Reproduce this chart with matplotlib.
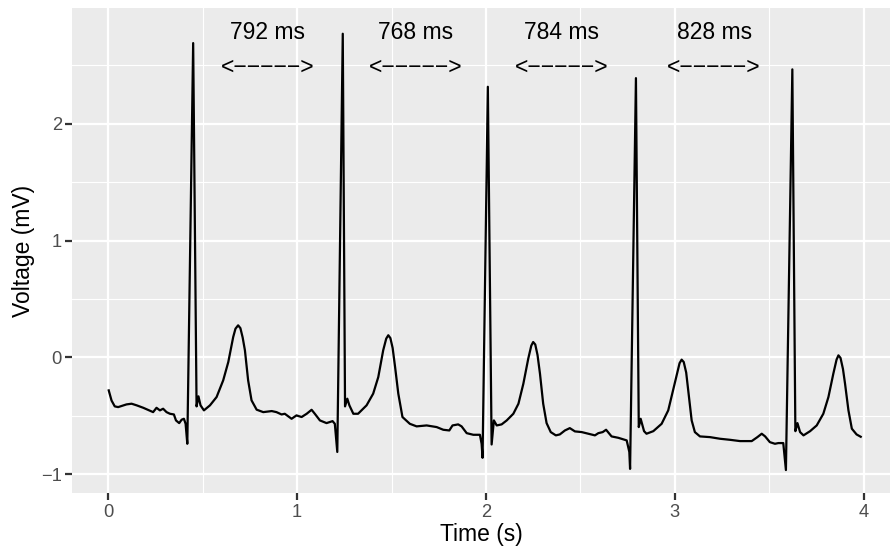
import matplotlib
matplotlib.use("Agg")
import matplotlib.pyplot as plt
from matplotlib.ticker import MultipleLocator

plt.rcParams['font.family'] = ['Liberation Sans', 'DejaVu Sans']

# ECG trace (time in s, voltage in mV)
time_s = [
    0.003, 0.018, 0.035, 0.053, 0.097, 0.124, 0.151, 0.186, 0.238, 0.256,
    0.274, 0.291, 0.309, 0.327, 0.348, 0.359, 0.376, 0.389, 0.401, 0.410,
    0.419, 0.450,
    0.468, 0.478, 0.489, 0.507, 0.539, 0.574, 0.609, 0.636, 0.662, 0.674,
    0.688, 0.700, 0.712, 0.724, 0.741, 0.759, 0.786, 0.821, 0.866, 0.891,
    0.918, 0.935, 0.971, 0.997,
    1.024, 1.051, 1.077, 1.094, 1.121, 1.156, 1.188, 1.200, 1.213, 1.242,
    1.254, 1.266, 1.277, 1.298, 1.323, 1.368, 1.403, 1.430, 1.456, 1.472,
    1.483, 1.494, 1.506, 1.519, 1.536, 1.558, 1.597, 1.633, 1.686, 1.739,
    1.774, 1.806, 1.823, 1.853, 1.871, 1.898, 1.933, 1.968, 1.977, 1.982,
    2.010,
    2.030, 2.042, 2.057, 2.083, 2.110, 2.145, 2.172, 2.198, 2.224, 2.240,
    2.250, 2.261, 2.273, 2.286, 2.303, 2.321, 2.343, 2.370, 2.391, 2.418,
    2.444, 2.471, 2.507, 2.542, 2.577, 2.595, 2.618, 2.636, 2.665, 2.701,
    2.745, 2.759, 2.763, 2.794,
    2.809, 2.819, 2.837, 2.850, 2.886, 2.930, 2.965, 3.001, 3.025, 3.036,
    3.047, 3.060, 3.072, 3.089, 3.106, 3.133, 3.186, 3.239, 3.292, 3.345,
    3.407, 3.437, 3.460, 3.478, 3.503, 3.530, 3.548, 3.574, 3.588, 3.622,
    3.638, 3.649, 3.663, 3.681, 3.716, 3.751, 3.786, 3.813, 3.839, 3.856,
    3.866, 3.877, 3.890, 3.901, 3.919, 3.937, 3.962, 3.984,
]
voltage_mv = [
    -0.283, -0.370, -0.420, -0.426, -0.403, -0.397, -0.411, -0.432, -0.469, -0.432,
    -0.454, -0.440, -0.469, -0.483, -0.489, -0.540, -0.563, -0.534, -0.526, -0.569,
    -0.740, 2.690,
    -0.420, -0.334, -0.411, -0.454, -0.411, -0.340, -0.197, -0.040, 0.174, 0.245,
    0.274, 0.250, 0.170, 0.060, -0.197, -0.368, -0.448, -0.469, -0.460, -0.469,
    -0.489, -0.483, -0.526, -0.497,
    -0.511, -0.483, -0.449, -0.483, -0.540, -0.563, -0.546, -0.569, -0.810, 2.770,
    -0.420, -0.354, -0.411, -0.483, -0.483, -0.411, -0.311, -0.169, 0.060, 0.160,
    0.189, 0.165, 0.080, -0.083, -0.311, -0.511, -0.569, -0.591, -0.583, -0.597,
    -0.620, -0.626, -0.583, -0.574, -0.591, -0.649, -0.663, -0.663, -0.740, -0.860,
    2.316,
    -0.746, -0.540, -0.583, -0.574, -0.540, -0.483, -0.397, -0.226, -0.011, 0.100,
    0.131, 0.110, 0.020, -0.140, -0.397, -0.563, -0.640, -0.668, -0.660, -0.626,
    -0.606, -0.634, -0.640, -0.654, -0.668, -0.649, -0.640, -0.620, -0.677, -0.689,
    -0.711, -0.810, -0.955, 2.390,
    -0.597, -0.526, -0.632, -0.654, -0.632, -0.569, -0.454, -0.210, -0.050, -0.020,
    -0.040, -0.130, -0.300, -0.540, -0.640, -0.677, -0.683, -0.697, -0.706, -0.717,
    -0.717, -0.683, -0.654, -0.677, -0.726, -0.740, -0.734, -0.734, -0.965, 2.465,
    -0.632, -0.563, -0.640, -0.668, -0.632, -0.583, -0.483, -0.340, -0.140, -0.020,
    0.017, -0.005, -0.100, -0.226, -0.454, -0.611, -0.660, -0.680,
]

# RR interval labels, placed midway between R peaks
rr_labels = ["792 ms", "768 ms", "784 ms", "828 ms"]
rr_label_x = [0.846, 1.626, 2.402, 3.208]
label_y = 2.8
arrow_y = 2.5

fig = plt.figure(figsize=(890 / 150, 548 / 150), dpi=150)
ax = fig.add_axes([0.0812, 0.0998, 1 - 0.0812, 0.9849 - 0.0998])
ax.set_facecolor('#EBEBEB')
for s in ax.spines.values():
    s.set_visible(False)

ax.xaxis.set_major_locator(MultipleLocator(1))
ax.xaxis.set_minor_locator(MultipleLocator(0.5))
ax.yaxis.set_major_locator(MultipleLocator(1))
ax.yaxis.set_minor_locator(MultipleLocator(0.5))
ax.grid(which='major', color='white', linewidth=1.07)
ax.grid(which='minor', color='white', linewidth=0.53)
ax.set_axisbelow(True)
ax.tick_params(which='major', length=3.5, width=1.07, color='#333333',
               labelsize=8.8, labelcolor='#4D4D4D', pad=1.5)
ax.tick_params(which='minor', length=0)

ax.plot(time_s, voltage_mv, color='black', linewidth=1.07, solid_joinstyle='round')

for x, lab in zip(rr_label_x, rr_labels):
    ax.text(x, label_y, lab, ha='center', va='center_baseline', fontsize=11)
    ax.text(x, arrow_y, "<\u2212\u2212\u2212\u2212\u2212>", ha='center',
            va='center_baseline', fontsize=11)

ax.set_xlim(-0.19, 4.139)
ax.set_ylim(-1.164, 2.988)
ax.set_xlabel("Time (s)", fontsize=11, labelpad=1)
ax.set_ylabel("Voltage (mV)", fontsize=11, labelpad=3)

fig.savefig("out.png", dpi=150)
